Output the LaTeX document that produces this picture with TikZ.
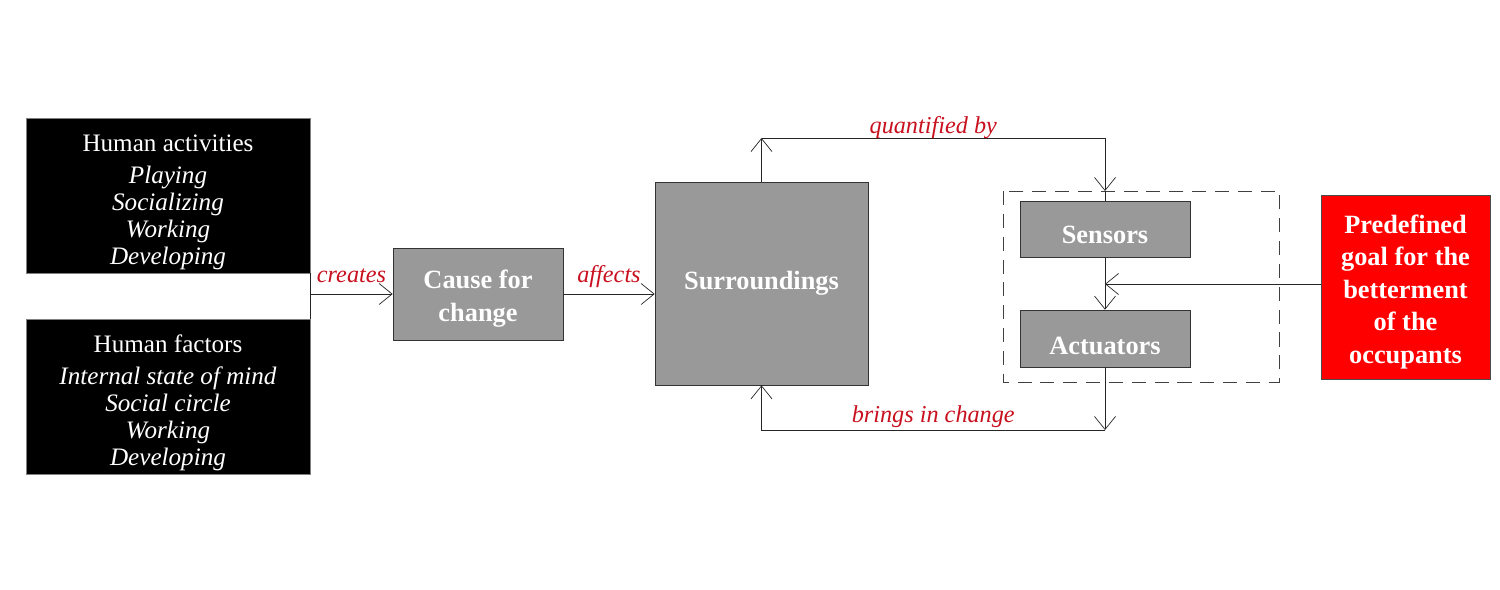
\documentclass[tikz,border=0pt]{standalone}
\usepackage{fontspec}
\setmainfont{Liberation Serif}
\usetikzlibrary{arrows.meta}
\definecolor{labelred}{RGB}{200,16,30}
\definecolor{boxgray}{RGB}{153,153,153}
\definecolor{goalred}{RGB}{255,0,0}

\begin{document}
\begin{tikzpicture}[x=0.02cm,y=-0.02cm,
    darkbox/.style={draw=gray, fill=black, text=white, align=center, inner ysep=0pt,
        minimum width=5.68cm, minimum height=3.10cm,
        font=\fontsize{14.3}{15.4}\selectfont},
    graybox/.style={draw=black!80, fill=boxgray, text=white, align=center,
        font=\bfseries\fontsize{15}{18.5}\selectfont},
    edgelabel/.style={text=labelred, font=\itshape\fontsize{13.8}{15}\selectfont},
    barb/.style={-{Straight Barb[length=2.6mm,width=4.2mm]}},
    line/.style={draw=black!85, thin}]
    \useasboundingbox (0,0) rectangle (1500,589);

    % human side
    \node[darkbox] (act) at (168,195.5) {\rule{0pt}{17pt}Human activities\\[3pt]
        \itshape Playing\\ \itshape Socializing\\ \itshape Working\\ \itshape Developing};
    \node[darkbox] (fac) at (168,396.5) {\rule{0pt}{17pt}Human factors\\[3pt]
        \itshape Internal state of mind\\ \itshape Social circle\\ \itshape Working\\ \itshape Developing};

    % main chain
    \node[graybox, minimum width=3.40cm, minimum height=1.84cm] (cause) at (478,294) {\rule{0pt}{16pt}Cause for\\change};
    \node[graybox, minimum width=4.26cm, minimum height=4.06cm] (surr) at (761.5,283.5) {Surroundings};

    % control loop
    \draw[black!75, dash pattern=on 8pt off 5pt] (1003,191) rectangle (1279,382);
    \node[graybox, minimum width=3.40cm, minimum height=1.12cm] (sens) at (1105,229) {\rule{0pt}{17pt}Sensors};
    \node[graybox, minimum width=3.40cm, minimum height=1.14cm] (actu) at (1105,338.5) {\rule{0pt}{18pt}Actuators};
    \node[graybox, draw=black!70, fill=goalred, minimum width=3.38cm, minimum height=3.68cm] (goal) at (1405.5,287)
        {\rule{0pt}{16pt}Predefined\\goal for the\\betterment\\of the\\occupants};

    \coordinate (join) at (act.south east |- cause.west);
    \coordinate (qleft) at (surr.north |- 0,138);
    \coordinate (qright) at (sens.north |- 0,138);
    \coordinate (qtip) at (sens.north |- 0,191);
    \coordinate (bright) at (actu.south |- 0,430);
    \coordinate (bleft) at (surr.south |- 0,430);
    \coordinate (gtip) at (sens.south |- 0,284);

    % connectors
    \draw[line] (act.south east) -- (fac.north east);
    \draw[line, barb] (join) -- node[edgelabel, above=3pt] {creates} (cause.west);
    \draw[line, barb] (cause.east) -- node[edgelabel, above] {affects} (cause.east -| surr.west);
    \draw[line, barb] (surr.north) -- (qleft);
    \draw[line, barb] (qleft) -- node[edgelabel, above=-4pt] {quantified by} (qright) -- (qtip);
    \draw[line] (qtip) -- (sens.north);
    \draw[line, barb] (sens.south) -- (actu.north);
    \draw[line, barb] (goal.west |- gtip) -- (gtip);
    \draw[line, barb] (actu.south) -- (bright);
    \draw[line, barb] (bright) -- node[edgelabel, above=-2pt] {brings in change} (bleft) -- (surr.south);
\end{tikzpicture}
\end{document}
